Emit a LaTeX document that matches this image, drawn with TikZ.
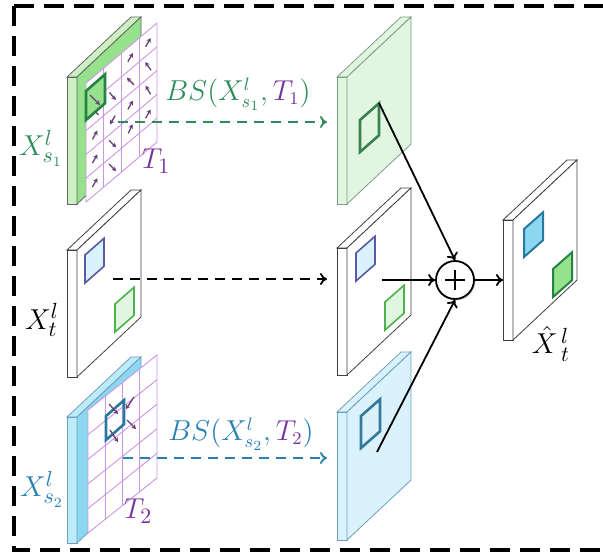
\documentclass[tikz,border=0pt]{standalone}
\usepackage{amsmath}
\usepackage{tikz}
\usetikzlibrary{arrows.meta,shadows}
\definecolor{bsgreen}{RGB}{46,140,90}
\definecolor{bsblue}{RGB}{40,128,178}
\definecolor{tpurple}{RGB}{118,52,160}
\definecolor{gridpurple}{RGB}{205,150,228}
\definecolor{offpurple}{RGB}{105,60,125}
\definecolor{sgreen}{RGB}{205,240,195}
\definecolor{fgreen}{RGB}{150,225,140}
\definecolor{dgreen}{RGB}{40,130,70}
\definecolor{sblue}{RGB}{190,235,250}
\definecolor{fblue}{RGB}{140,215,240}
\definecolor{dblue}{RGB}{40,120,160}
\definecolor{pgreen}{RGB}{225,245,225}
\definecolor{ogreen}{RGB}{120,160,130}
\definecolor{pblue}{RGB}{218,242,252}
\definecolor{oblue}{RGB}{110,160,190}

% feature slab: #1 shift, #2 height, #3 outline, #4 side fill, #5 face fill
\newcommand{\slab}[5]{%
  \begin{scope}[shift={#1}]
    \filldraw[draw=#3,fill=#4] (0,0) -- (64,-60) -- (74,-60) -- (10,0) -- cycle;
    \filldraw[draw=#3,fill=#4] (0,0) -- (10,0) -- (10,#2) -- (0,#2) -- cycle;
    \filldraw[draw=#3,fill=#5] (10,0) -- (74,-60) -- (74,#2-60) -- (10,#2) -- cycle;
  \end{scope}}
% small patch on a slab face: #1 corner, #2 width, #3 height
\newcommand{\patch}[3]{#1 -- ++(#2,{-0.88*#2}) -- ++(0,#3) -- ++({-#2},{0.88*#2}) -- cycle}

\begin{document}
\begin{tikzpicture}[x=0.5pt,y=-0.5pt,
    lbl/.style={font=\fontsize{15}{18}\selectfont},
    bslbl/.style={font=\fontsize{13.5}{16}\selectfont},
    arr/.style={-{To[length=3.5pt,width=6pt]},line width=0.9pt},
    warp/.style={arr,dash pattern=on 5pt off 3.5pt},
    gridln/.style={draw=gridpurple,line width=0.45pt},
    offs/.style={-{Stealth[length=2.2pt,width=2.4pt]},draw=offpurple,line width=0.65pt},
    hl/.style={line width=1.3pt}
  ]
  \useasboundingbox (0,0) rectangle (603,554);
  \clip (0,0) rectangle (603,554);
  \draw[line width=1.6pt,dash pattern=on 10pt off 5pt] (14,6) rectangle (620,550);

  % source features with offset grids
  \slab{(67,77)}{127}{gray!80!black}{sgreen}{fgreen}
  \begin{scope}[shift={(86,83)}]
    \fill[white] (0,0) -- (71,-60) -- (71,59) -- (0,119) -- cycle;
    \foreach \i in {1,2,3}
      \draw[gridln] (\i*17.75,-\i*15) -- ++(0,119);
    \foreach \j in {1,...,4}
      \draw[gridln] (0,\j*23.8) -- (71,\j*23.8-60);
    \draw[gridln] (0,0) -- (71,-60) -- (71,59) -- (0,119) -- cycle;
    \foreach \c/\r/\a in {3/0/60,2/0/60,0/1/135,1/1/-50,2/1/135,3/1/125,0/2/60,1/2/240,2/2/60,
        3/2/120,0/3/60,1/3/-45,2/3/65,3/3/60,0/4/60,1/4/-45}
      \draw[offs] ({(\c+0.5)*17.75-5*cos(\a)},{(\r+0.5)*23.8-(\c+0.5)*15+5*sin(\a)})
        -- ++({10*cos(\a)},{-10*sin(\a)});
  \end{scope}
  \filldraw[hl,draw=dgreen,fill=fgreen] \patch{(86,91)}{19}{29};
  \draw[offs] (90,95) -- (100,105);

  \slab{(67,250)}{127}{black!75}{white}{white}
  \filldraw[draw=gray!70!blue,fill=pblue,line width=0.8pt] \patch{(85,255)}{19}{28};
  \filldraw[draw=gray!60!green,fill=pgreen,line width=0.8pt] \patch{(115,304)}{19}{28};

  \slab{(67,417)}{126}{oblue}{sblue}{fblue}
  \begin{scope}[shift={(88,410)}]
    \fill[white] (0,0) -- (69,-55) -- (69,68) -- (0,123) -- cycle;
    \foreach \i in {1,2,3}
      \draw[gridln] (\i*17.25,-\i*13.75) -- ++(0,123);
    \foreach \j in {1,...,4}
      \draw[gridln] (0,\j*24.6) -- (69,\j*24.6-55);
    \draw[gridln] (0,0) -- (69,-55) -- (69,68) -- (0,123) -- cycle;
  \end{scope}
  \draw[hl,draw=dblue] \patch{(106,416)}{18}{24};
  \draw[offs] (109,404) -- (118,414);
  \draw[offs] (134,397) -- (126,409);
  \draw[offs] (127,420) -- (136,429);
  \draw[offs] (110,430) -- (118,442);

  % labels on the left
  \node[lbl,text=bsgreen] (ls1) at (41,148) {$X^{l}_{s_1}$};
  \node[lbl,text=tpurple] (lt1) at (156,161) {$T_1$};
  \node[lbl] (lt) at (42,320) {$X^{l}_{t}$};
  \node[lbl,text=bsblue] (ls2) at (42,489) {$X^{l}_{s_2}$};
  \node[lbl,text=tpurple] (lt2) at (138,511) {$T_2$};

  % warped features
  \slab{(337,77)}{127}{ogreen}{pgreen}{pgreen}
  \draw[hl,draw=dgreen!80!gray] \patch{(360,120)}{19}{32};
  \coordinate (gsrc) at (379,103);

  \slab{(337,248)}{127}{black!75}{white}{white}
  \filldraw[draw=gray!70!blue,fill=pblue,line width=0.8pt] \patch{(356,253)}{19}{28};
  \filldraw[draw=gray!60!green,fill=pgreen,line width=0.8pt] \patch{(385,302)}{19}{28};
  \coordinate (tsrc) at (382,280);

  \slab{(337,412)}{128}{oblue}{pblue}{pblue}
  \draw[hl,draw=dblue!85!gray] \patch{(361,416)}{19}{32};
  \coordinate (bsrc) at (377,452);

  % fused output
  \slab{(503,220)}{120}{black!75}{white}{white}
  \filldraw[draw=dblue,fill=fblue,line width=1pt] \patch{(524,229)}{19}{28};
  \filldraw[draw=dgreen,fill=fgreen,line width=1pt] \patch{(553,269)}{19}{28};
  \node[lbl] (lout) at (551,344) {$\hat{X}{}^{\,l}_{\,t}$};

  % sampling arrows
  \coordinate (s1a) at (118,122);
  \coordinate (s1b) at (327,122);
  \coordinate (ta) at (113,279);
  \coordinate (tb) at (327,279);
  \coordinate (s2a) at (123,458);
  \coordinate (s2b) at (327,458);
  \draw[warp,draw=bsgreen] (s1a) -- (s1b);
  \draw[warp] (ta) -- (tb);
  \draw[warp,draw=bsblue] (s2a) -- (s2b);
  \node[bslbl,text=bsgreen] (bs1) at (238,94) {$BS(X^{l}_{s_1},\textcolor{tpurple}{T_1})$};
  \node[bslbl,text=bsblue] (bs2) at (241,434) {$BS(X^{l}_{s_2},\textcolor{tpurple}{T_2})$};

  % fusion
  \node[circle,draw,line width=0.9pt,minimum size=19pt,inner sep=0pt,fill=white,
    drop shadow={opacity=0.25,shadow xshift=0.8pt,shadow yshift=-0.8pt},
    path picture={\draw[line width=0.9pt] (path picture bounding box.center) ++(-10,0) -- ++(20,0)
      (path picture bounding box.center) ++(0,-10) -- ++(0,20);}] (sum) at (455,280) {};
  \coordinate (outin) at (503,280);
  \draw[arr] (gsrc) -- (sum.north);
  \draw[arr] (tsrc) -- (sum.west);
  \draw[arr] (bsrc) -- (sum.south);
  \draw[arr] (sum.east) -- (outin);
\end{tikzpicture}
\end{document}
